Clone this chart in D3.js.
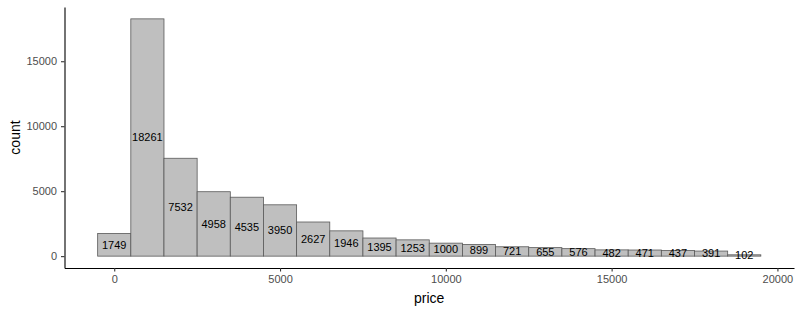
<!DOCTYPE html>
<html>
<head>
<meta charset="utf-8">
<script src="https://cdn.jsdelivr.net/npm/d3@7"></script>
<style>
  body { margin: 0; background: #fff; }
  text { font-family: "Liberation Sans", Arial, sans-serif; }
</style>
</head>
<body>
<div id="chart"></div>
<script>
// bin centres (price) and counts, binwidth 1000
var binCenters = [0, 1000, 2000, 3000, 4000, 5000, 6000, 7000, 8000, 9000,
                  10000, 11000, 12000, 13000, 14000, 15000, 16000, 17000, 18000, 19000];
var counts = [1749, 18261, 7532, 4958, 4535, 3950, 2627, 1946, 1395, 1253,
              1000, 899, 721, 655, 576, 482, 471, 437, 391, 102];
var binWidth = 1000;
var xTicks = [0, 5000, 10000, 15000, 20000];
var yTicks = [0, 5000, 10000, 15000];

var totalWidth = 801, totalHeight = 312;
var margin = { top: 7, right: 7, bottom: 44, left: 64.5 };
var width = totalWidth - margin.left - margin.right,
    height = totalHeight - margin.top - margin.bottom;

var svg = d3.select("#chart")
  .append("svg")
    .attr("width", totalWidth)
    .attr("height", totalHeight)
  .append("g")
    .attr("transform", "translate(" + margin.left + "," + margin.top + ")");

// ggplot style 5% expansion on both axes
var xMin = binCenters[0] - binWidth / 2,
    xMax = binCenters[binCenters.length - 1] + binWidth / 2,
    xPad = (xMax - xMin) * 0.05;
var x = d3.scaleLinear().domain([xMin - xPad, xMax + xPad]).range([0, width]);

var yMax = d3.max(counts), yPad = yMax * 0.05;
var y = d3.scaleLinear().domain([-yPad, yMax + yPad]).range([height, 0]);

var data = binCenters.map(function(c, i) { return { center: c, count: counts[i] }; });

// bars
svg.selectAll("rect.bar")
  .data(data)
  .enter()
  .append("rect")
    .attr("class", "bar")
    .attr("x", function(d) { return x(d.center - binWidth / 2); })
    .attr("width", function(d) { return x(d.center + binWidth / 2) - x(d.center - binWidth / 2); })
    .attr("y", function(d) { return y(d.count); })
    .attr("height", function(d) { return y(0) - y(d.count); })
    .style("fill", "#bfbfbf")
    .style("stroke", "#595959")
    .style("stroke-width", 0.8);

// count labels, halfway up each bar
svg.selectAll("text.lab")
  .data(data)
  .enter()
  .append("text")
    .attr("class", "lab")
    .attr("x", function(d) { return x(d.center); })
    .attr("y", function(d) { return y(d.count / 2); })
    .attr("dy", "0.35em")
    .attr("text-anchor", "middle")
    .style("font-size", "11px")
    .style("fill", "#000")
    .text(function(d) { return d.count; });

// axes
var fmt = d3.format("d");
var xAxis = svg.append("g")
  .attr("transform", "translate(0," + height + ")")
  .call(d3.axisBottom(x).tickValues(xTicks).tickFormat(fmt).tickSize(3.5).tickPadding(4).tickSizeOuter(0));
var yAxis = svg.append("g")
  .call(d3.axisLeft(y).tickValues(yTicks).tickFormat(fmt).tickSize(3.5).tickPadding(4).tickSizeOuter(0));

[xAxis, yAxis].forEach(function(a) {
  a.select(".domain").style("stroke", "#000").style("stroke-width", 1.1);
  a.selectAll(".tick line").style("stroke", "#333").style("stroke-width", 1.1);
  a.selectAll(".tick text")
    .style("font-family", "'Liberation Sans', Arial, sans-serif")
    .style("font-size", "11px")
    .style("fill", "#4d4d4d");
});

// axis titles
svg.append("text")
  .attr("x", width / 2)
  .attr("y", height + 35)
  .attr("text-anchor", "middle")
  .style("font-size", "14px")
  .style("fill", "#000")
  .text("price");

svg.append("text")
  .attr("transform", "translate(" + (-45) + "," + (height / 2) + ") rotate(-90)")
  .attr("text-anchor", "middle")
  .style("font-size", "14px")
  .style("fill", "#000")
  .text("count");
</script>
</body>
</html>
